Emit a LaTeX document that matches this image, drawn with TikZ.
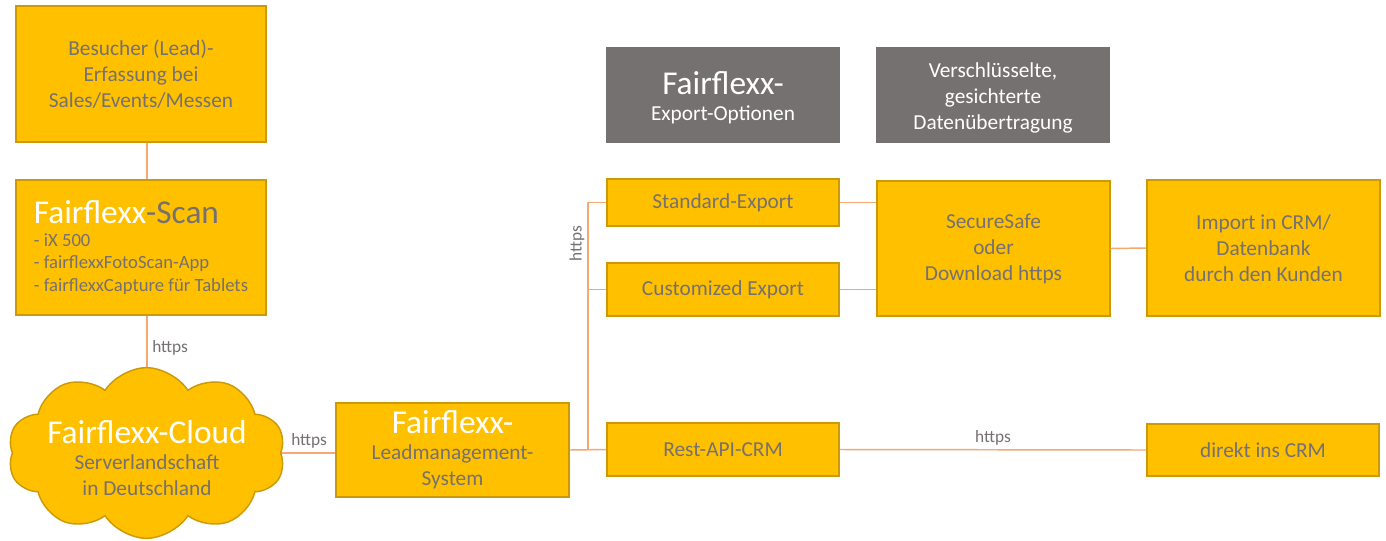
\documentclass[tikz,border=0pt]{standalone}
\usepackage{fontspec}
\setmainfont{Carlito}
\usetikzlibrary{shapes.symbols,calc}
\pgfdeclarelayer{background}
\pgfsetlayers{background,main}
\definecolor{gold}{HTML}{FFC000}
\definecolor{goldline}{HTML}{CC9A06}
\definecolor{txtgray}{HTML}{767171}
\definecolor{boxgray}{HTML}{767171}
\definecolor{connc}{HTML}{F6A872}
\newcommand\bigtxt[1]{{\fontsize{25}{19.5}\selectfont #1}}
\begin{document}
\begin{tikzpicture}[x=0.75pt,y=-0.75pt,
  box/.style={draw=goldline,fill=gold,line width=1.1pt,text=txtgray,align=center,
    font=\fontsize{16}{19.5}\selectfont,inner sep=0pt},
  graybox/.style={fill=boxgray,text=white,align=center,font=\fontsize{16}{19.5}\selectfont,
    inner sep=0pt,minimum width=175.5pt,minimum height=72pt},
  conn/.style={draw=connc,line width=1.1pt},
  lbl/.style={text=txtgray,font=\fontsize{13}{15}\selectfont,inner sep=0pt}]
\useasboundingbox (0,0) rectangle (1386,540);

% boxes
\node[box,minimum width=187.5pt,minimum height=102pt] (besucher) at (141,74)
  {Besucher (Lead)-\\Erfassung bei\\Sales/Events/Messen};
\node[box,minimum width=187.5pt,minimum height=101.25pt,align=left,
  font=\fontsize{14}{17}\selectfont] (scan) at (141,247.5)
  {\bigtxt{\textcolor{white}{Fairflexx}-Scan}\\- iX 500\\- fairflexxFotoScan-App\\- fairflexxCapture für Tablets};
\node[cloud,draw=goldline,fill=gold,line width=1.1pt,cloud puffs=10,cloud puff arc=115,
  minimum width=208pt,minimum height=128pt,inner sep=0pt] (cloud) at (146.5,453) {};
\node[text=txtgray,align=center,font=\fontsize{16}{19.5}\selectfont,inner sep=0pt] (cloudtxt) at (147,458)
  {\textcolor{white}{\bigtxt{Fairflexx-Cloud}}\\Serverlandschaft\\in Deutschland};
\node[box,minimum width=174.75pt,minimum height=70.5pt] (lead) at (452.5,450)
  {\textcolor{white}{\bigtxt{Fairflexx-}}\\Leadmanagement-\\System};

\node[graybox] (gexp) at (723,95) {\rule{0pt}{21pt}\bigtxt{Fairflexx-}\\Export-Optionen};
\node[graybox] (gsec) at (993,95) {\rule{0pt}{15.5pt}Verschlüsselte,\\gesichterte\\Datenübertragung};

\node[box,minimum width=174pt,minimum height=35.25pt] (std) at (723,202.5) {Standard-Export};
\node[box,minimum width=174pt,minimum height=39.75pt] (cust) at (723,289.5) {Customized Export};
\node[box,minimum width=174pt,minimum height=39.75pt] (rest) at (723,449.5) {Rest-API-CRM};
\node[box,minimum width=174.75pt,minimum height=101.25pt] (secure) at (993.5,248.5)
  {SecureSafe\\oder\\Download https};
\node[box,minimum width=174.75pt,minimum height=102pt] (import) at (1263.5,248)
  {Import in CRM/\\Datenbank\\durch den Kunden};
\node[box,minimum width=174pt,minimum height=39pt] (direkt) at (1263,450) {direkt ins CRM};

\coordinate (vx) at (147,0);
\coordinate (tx) at (588,0);

\begin{pgfonlayer}{background}
\fill[white] (0,0) rectangle (1386,540);
\draw[conn] (besucher.south -| vx) -- (scan.north -| vx);
\draw[conn] (scan.south -| vx) -- (cloud.center -| vx);
\draw[conn] (cloud.center) -- (cloud.center -| lead.west);
\draw[conn] (lead.east) -- (rest.west);
\draw[conn] (std.west) -| (tx |- rest.west);
\draw[conn] (cust.west) -- (cust.west -| tx);
\draw[conn] (std.east) -- (std.east -| secure.west);
\draw[conn] (cust.east) -- (cust.east -| secure.west);
\draw[conn] (secure.east) -- (import.west);
\draw[conn] (rest.east) -- (direkt.west);
\end{pgfonlayer}

% labels
\node[lbl,anchor=base west] (l1) at (152,352) {https};
\node[lbl,anchor=base east] (l2) at ($(lead.west)+(-8,-5)$) {https};
\node[lbl,rotate=90] (l3) at (577,244) {https};
\node[lbl,anchor=base] (l4) at ($(rest.east)!0.5!(direkt.west)+(0,-7)$) {https};
\end{tikzpicture}
\end{document}
